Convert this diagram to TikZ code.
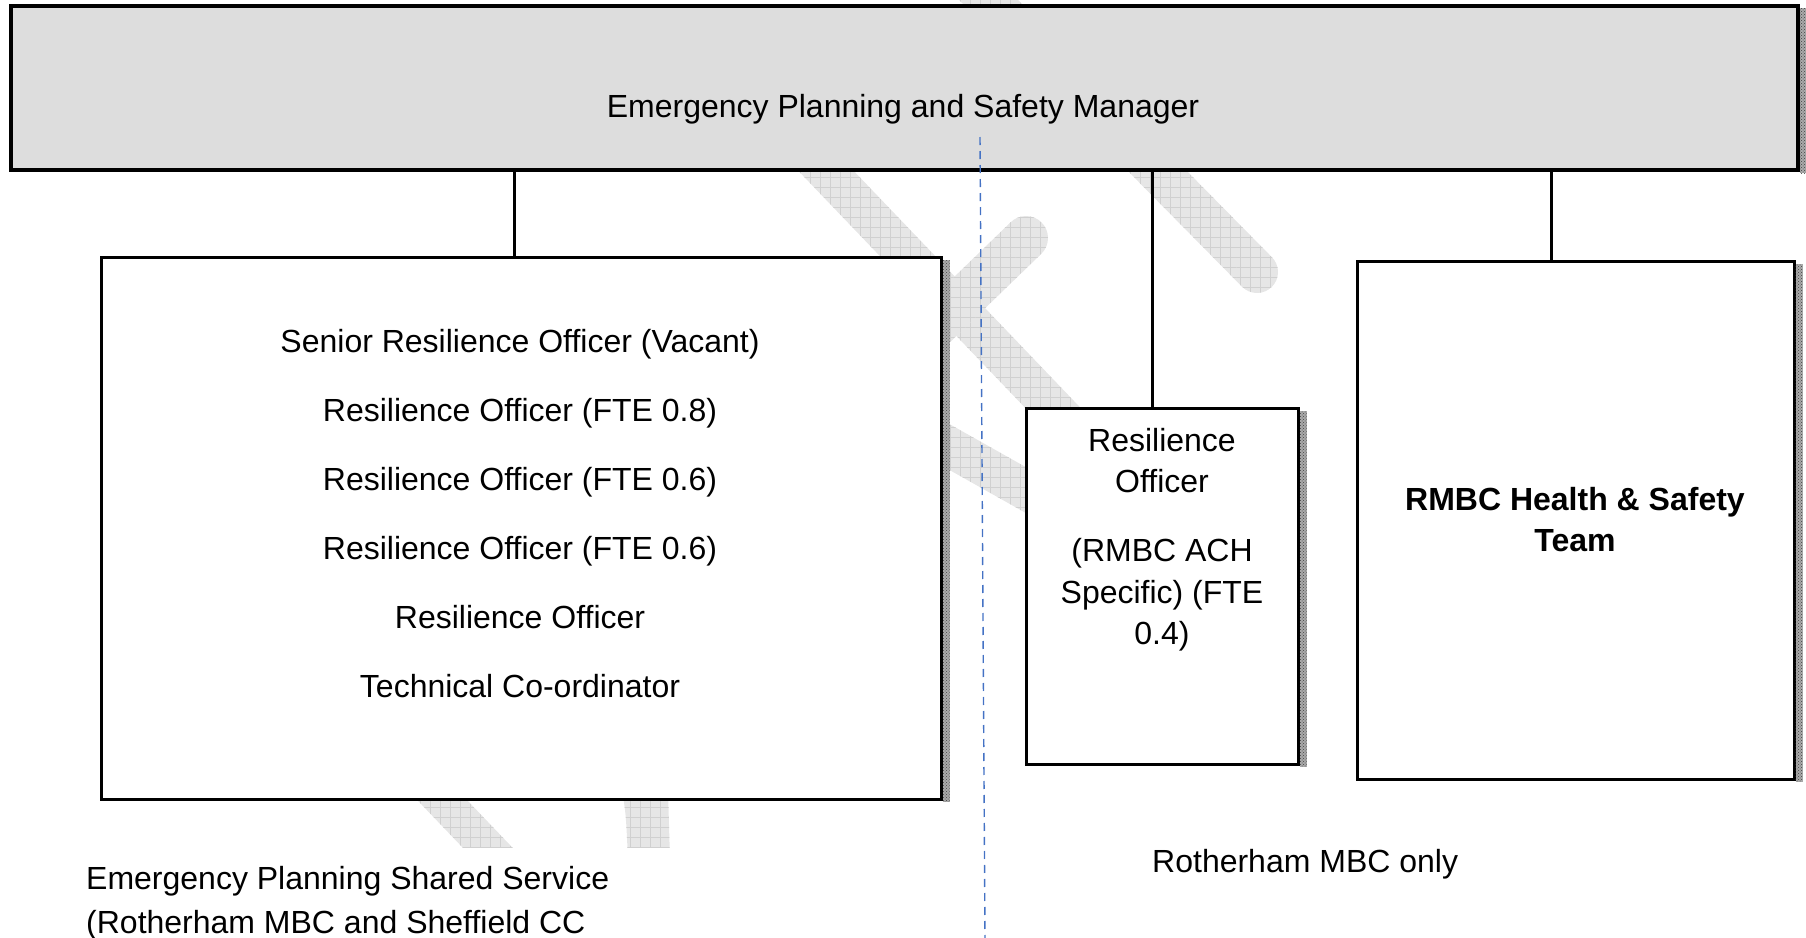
\documentclass[tikz,border=0pt]{standalone}
\usepackage{fontspec}
\setmainfont{Liberation Sans}
\usetikzlibrary{calc,patterns,patterns.meta}

\definecolor{mgrfill}{RGB}{221,221,221}
\definecolor{wmfill}{RGB}{230,230,230}
\definecolor{wmline}{RGB}{208,208,208}
\definecolor{shfill}{RGB}{170,170,170}
\definecolor{splitblue}{RGB}{68,114,196}

\tikzset{
  orgbox/.style={draw, fill=white, line width=2.5pt, inner sep=0pt, anchor=north west},
  topbox/.style={orgbox, fill=mgrfill, line width=4pt},
  boxshade/.style={preaction={fill=shfill}, pattern=crosshatch dots, pattern color=black!75},
  link/.style={line width=3pt},
  divider/.style={splitblue, line width=1.4pt, dash pattern=on 8pt off 6pt},
  wmark/.style={preaction={fill=wmfill}, pattern={Hatch[distance=10pt,angle=0,line width=0.6pt]}, pattern color=wmline},
  lbl/.style={font=\fontsize{32}{38}\selectfont, inner sep=0pt, anchor=base},
}

% one straight stroke of the watermark: from, to, half width
\newcommand{\wmbar}[3]{%
  \path[wmark] ($(#1)!#3!90:(#2)$) -- ($(#2)!#3!-90:(#1)$)
    -- ($(#2)!#3!90:(#1)$) -- ($(#1)!#3!-90:(#2)$) -- cycle;}

\begin{document}
\begin{tikzpicture}[x=1pt, y=-1pt]
  \useasboundingbox (0,0) rectangle (1806,937);

  % watermark strokes, mostly hidden by the boxes
  \begin{scope}
    \clip (0,0) rectangle (1806,847);
    \wmbar{740,81}{1120,478}{20pt}
    \wmbar{900,360}{1026,238}{22pt}
    \path[wmark] (1026,238) circle[radius=22pt];
    \wmbar{969,-20}{1257,272}{21pt}
    \path[wmark] (1257,272) circle[radius=21pt];
    \wmbar{850,391}{1150,560}{20pt}
    \wmbar{380,735}{530,892}{18pt}
    \path[wmark] (622,790) .. controls (626,815) .. (628,860) -- (670,860) -- (668,790) -- cycle;
  \end{scope}

  % boxes
  \node[topbox, minimum width=1787pt, minimum height=164pt] (mgr) at (9,4) {};
  \node[orgbox, minimum width=840pt, minimum height=542pt] (svc) at (100,256) {};
  \node[orgbox, minimum width=272pt, minimum height=356pt] (ach) at (1025,407) {};
  \node[orgbox, minimum width=437pt, minimum height=518pt] (hs) at (1356,260) {};

  % shadows down the right side
  \foreach \b in {mgr,svc,ach,hs}
    \fill[boxshade] ([yshift=-4pt]\b.north east) rectangle ([xshift=7pt,yshift=-1pt]\b.south east);

  % reporting lines
  \coordinate (c1) at (514,0);
  \coordinate (c2) at (1152,0);
  \coordinate (c3) at (1551,0);
  \draw[link] (c1 |- mgr.south) -- (c1 |- svc.north);
  \draw[link] (c2 |- mgr.south) -- (c2 |- ach.north);
  \draw[link] (c3 |- mgr.south) -- (c3 |- hs.north);

  % split between shared service and RMBC
  \coordinate (divtop) at (980,137);
  \coordinate (divbot) at (985,940);
  \draw[divider] (divtop) -- (divbot);

  \node[lbl] (mgrtext) at (903,117) {Emergency Planning and Safety Manager};

  \foreach \t [count=\i] in {Senior Resilience Officer (Vacant),
      Resilience Officer (FTE 0.8), Resilience Officer (FTE 0.6),
      Resilience Officer (FTE 0.6), Resilience Officer, Technical Co-ordinator}
    \node[lbl] (svc\i) at (520,283+69*\i) {\t};

  \node[lbl] (ach1) at (1162,451) {Resilience};
  \node[lbl] (ach2) at (1162,492) {Officer};
  \node[lbl] (ach3) at (1162,561) {(RMBC ACH};
  \node[lbl] (ach4) at (1162,603) {Specific) (FTE};
  \node[lbl] (ach5) at (1162,644) {0.4)};

  \node[lbl, font=\fontsize{32}{38}\selectfont\bfseries] (hs1) at (1575,510) {RMBC Health \& Safety};
  \node[lbl, font=\fontsize{32}{38}\selectfont\bfseries] (hs2) at (1575,551) {Team};

  % areas under the chart
  \node[lbl, anchor=base west] (shared1) at (86,889) {Emergency Planning Shared Service};
  \node[lbl, anchor=base west] (shared2) at (86,933) {(Rotherham MBC and Sheffield CC};
  \node[lbl, anchor=base west] (rmbconly) at (1152,872) {Rotherham MBC only};
\end{tikzpicture}
\end{document}
